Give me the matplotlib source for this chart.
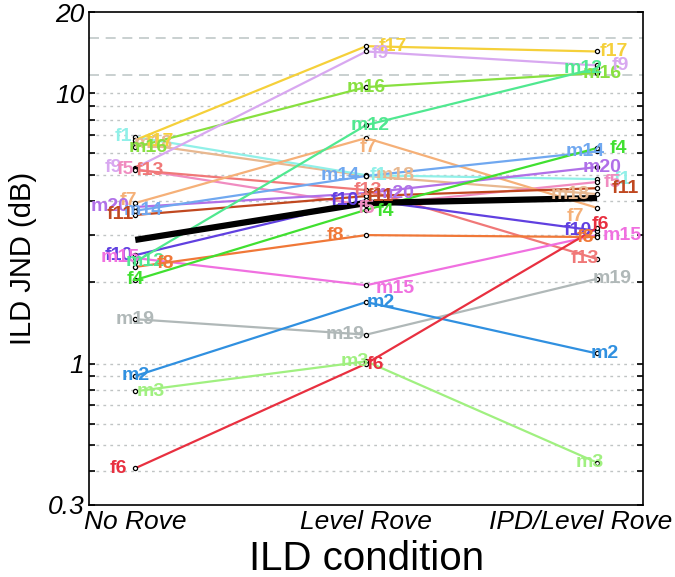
import matplotlib
matplotlib.use('Agg')
import matplotlib.pyplot as plt
from matplotlib.ticker import FixedLocator, NullFormatter

plt.rcParams['font.family'] = ['Liberation Sans', 'DejaVu Sans']

conditions = ['No Rove', 'Level Rove', 'IPD/Level Rove']

# ILD JND (dB) per listener: No Rove, Level Rove, IPD/Level Rove
subjects = ['m18', 'f1', 'f17', 'm16', 'f9', 'f5', 'f13', 'f7', 'm20', 'm14', 'f11',
            'f10', 'm15', 'm12', 'f8', 'f4', 'm19', 'm2', 'm3', 'f6']
jnd = {
    'm18': [6.55, 4.95, 4.24],
    'f1':  [6.90, 4.98, 4.82],
    'f17': [6.72, 14.96, 14.3],
    'm16': [6.33, 10.56, 11.9],
    'f9':  [5.30, 14.3, 12.7],
    'f5':  [5.25, 3.85, 4.70],
    'f13': [5.20, 4.39, 2.44],
    'f7':  [3.93, 6.84, 3.77],
    'm20': [3.80, 4.28, 5.34],
    'm14': [3.68, 4.95, 6.10],
    'f11': [3.55, 4.17, 4.46],
    'f10': [2.52, 4.03, 3.10],
    'm15': [2.46, 1.95, 2.99],
    'm12': [2.38, 7.64, 12.4],
    'f8':  [2.28, 2.99, 2.94],
    'f4':  [2.04, 3.71, 6.28],
    'm19': [1.46, 1.28, 2.06],
    'm2':  [0.90, 1.69, 1.09],
    'm3':  [0.79, 1.02, 0.43],
    'f6':  [0.41, 1.00, 3.18],
}
mean_jnd = [2.87, 3.93, 4.10]
limit_lines = [16.0, 11.7]

colors = {
    'm18': '#e8b890', 'f1': '#90f0e8', 'f17': '#f5d03a', 'm16': '#88e040',
    'f9': '#d8a8f0', 'f5': '#f08cc0', 'f13': '#f07878', 'f7': '#f5b078',
    'm20': '#b070e8', 'm14': '#70a8f0', 'f11': '#c04820', 'f10': '#6040e0',
    'm15': '#f070e0', 'm12': '#50e890', 'f8': '#f07838', 'f4': '#40e030',
    'm19': '#b0b8b8', 'm2': '#3090e0', 'm3': '#a0f080', 'f6': '#e83040',
}

# label offsets in pixels (dx, dy) for each condition
offsets = {
    'm18': [(18, 0), (29, 0), (-27, 0)],
    'f1':  [(-12, 0), (12, 0), (25, 0)],
    'f17': [(25, -1), (27, 0), (17, 0)],
    'm16': [(13, 0), (0, 0), (5, 0)],
    'f9':  [(-22, 0), (14, -2), (23, 0)],
    'f5':  [(-10, 0), (0, -3), (15, 0)],
    'f13': [(15, 0), (2, 0), (-12, 0)],
    'f7':  [(-7, 3), (2, -9), (-22, -9)],
    'm20': [(-25, 0), (29, 0), (5, 0)],
    'm14': [(8, 0), (-26, 0), (-12, 0)],
    'f11': [(-15, 0), (14, 0), (28, 0)],
    'f10': [(-17, 0), (-21, 0), (-19, 0)],
    'm15': [(-15, 0), (29, -3), (25, 0)],
    'm12': [(10, 0), (4, 0), (-14, 0)],
    'f8':  [(30, 3), (-31, 0), (-12, 0)],
    'f4':  [(0, 0), (19, -2), (21, 0)],
    'm19': [(0, 0), (-21, 0), (15, 0)],
    'm2':  [(0, 0), (14, 0), (8, 0)],
    'm3':  [(15, 0), (-11, 0), (-7, 0)],
    'f6':  [(-17, 0), (9, -1), (3, 3)],
}
# horizontal nudge (pixels) of the category names under the axis
cond_dx = [0, 0, -16]

fig = plt.figure(figsize=(6.75, 5.77), dpi=100)
ax = fig.add_axes([0.132, 0.125, 0.821, 0.854])
x = [1, 2, 3]

for v in [0.4, 0.5, 0.6, 0.7, 0.8, 0.9, 1, 2, 3, 4, 5, 6, 7, 8, 9, 10]:
    ax.axhline(v, color='#c0c4c4', lw=1, ls=(0, (2, 3)), zorder=0)
for v in limit_lines:
    ax.axhline(v, color='#c0c8c8', lw=1.2, ls=(0, (6, 4)), zorder=0)

for s in subjects:
    ax.plot(x, jnd[s], color=colors[s], lw=1.6, zorder=2)

ax.plot(x, mean_jnd, color='black', lw=4.5, solid_capstyle='butt', zorder=3)

for s in subjects:
    ax.plot(x, jnd[s], 'o', ms=3, mfc='white', mec='black', mew=0.9, zorder=4)

for s in subjects:
    for i in range(3):
        ax.annotate(s, (x[i], jnd[s][i]), xytext=offsets[s][i], textcoords='offset pixels',
                    ha='center', va='center', fontsize=14, fontweight='bold',
                    color=colors[s], zorder=5)

ax.set_yscale('log')
ax.set_ylim(0.3, 20)
ax.set_xlim(0.8, 3.2)
ax.yaxis.set_major_locator(FixedLocator([0.3, 1, 10, 20]))
ax.set_yticklabels(['0.3', '1', '10', '20'], fontsize=19, style='italic')
ax.yaxis.set_minor_locator(FixedLocator([0.4, 0.5, 0.6, 0.7, 0.8, 0.9, 2, 3, 4, 5, 6, 7, 8, 9]))
ax.yaxis.set_minor_formatter(NullFormatter())
ax.set_xticks(x)
ax.set_xticklabels([])
for i, c in enumerate(conditions):
    ax.annotate(c, (x[i], 0), xycoords=('data', 'axes fraction'),
                xytext=(cond_dx[i], -5), textcoords='offset pixels',
                ha='center', va='top', fontsize=19, style='italic', annotation_clip=False)
ax.tick_params(axis='y', which='both', direction='in', left=True, right=True, length=4, width=1.2)
ax.tick_params(axis='x', length=0, pad=4)
ax.set_xlabel('ILD condition', fontsize=29, labelpad=21)
ax.set_ylabel('ILD JND (dB)', fontsize=21, labelpad=8)
for sp in ax.spines.values():
    sp.set_linewidth(1.2)

fig.savefig('out.png', dpi=100)
